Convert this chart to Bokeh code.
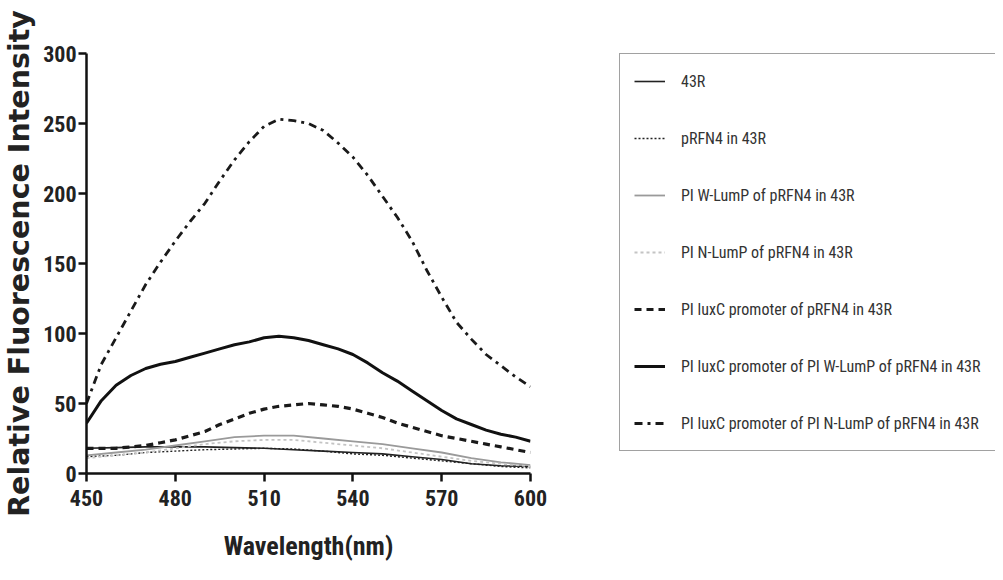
from bokeh.plotting import figure
from bokeh.layouts import row
from bokeh.models import Legend, LegendItem, FixedTicker, Range1d
from bokeh.embed import file_html
from bokeh.resources import INLINE

# ---------------- data ----------------
wl_5 = [450, 455, 460, 465, 470, 475, 480, 485, 490, 495, 500, 505, 510, 515,
        520, 525, 530, 535, 540, 545, 550, 555, 560, 565, 570, 575, 580, 585,
        590, 595, 600]
wl_10 = [450, 460, 470, 480, 490, 500, 510, 520, 530, 540, 550, 560, 570, 580, 590, 600]

s_43R = [18, 18.5, 19, 19, 19, 18.5, 18, 17, 16, 15, 14, 12, 10, 7, 5.5, 5]
s_pRFN4 = [12, 13, 15, 16, 17, 17.5, 18, 17.5, 16, 14, 13, 11, 9, 7, 5, 4]
s_W = [13, 15, 17, 20, 23, 26, 27, 27, 25, 23, 21, 18, 15, 11, 8, 6]
s_N = [11, 13, 15, 18, 21, 23, 24, 24, 22, 20, 18, 15, 12, 9, 7, 5]
s_lux = [18, 18, 18, 19, 20, 22, 24, 27, 30, 35, 39, 43, 46, 48, 49, 50, 49, 48,
         46, 43, 40, 36, 33, 30, 27, 25, 23, 21, 19, 17, 15]
s_luxW = [36, 52, 63, 70, 75, 78, 80, 83, 86, 89, 92, 94, 97, 98, 97, 95, 92, 89,
          85, 79, 72, 66, 59, 52, 45, 39, 35, 31, 28, 26, 23]
s_luxN = [50, 78, 97, 116, 135, 151, 166, 180, 193, 209, 224, 237, 248, 253, 252,
          250, 245, 236, 226, 213, 198, 183, 166, 145, 126, 108, 96, 85, 77, 69, 62]

labels = ["43R", "pRFN4 in 43R", "PI W-LumP of pRFN4 in 43R", "PI N-LumP of pRFN4 in 43R",
          "PI luxC promoter of pRFN4 in 43R", "PI luxC promoter of PI W-LumP of pRFN4 in 43R",
          "PI luxC promoter of PI N-LumP of pRFN4 in 43R"]
x_ticks = [450, 480, 510, 540, 570, 600]
y_ticks = [0, 50, 100, 150, 200, 250, 300]

COND = "Roboto Condensed, DejaVu Sans Condensed, sans-serif"

p = figure(width=600, height=572, output_backend="svg", toolbar_location=None,
           x_range=Range1d(450, 600), y_range=Range1d(0, 300),
           min_border_left=85, min_border_top=53, min_border_bottom=99,
           min_border_right=70)
p.outline_line_color = None
p.xgrid.visible = False
p.ygrid.visible = False

styles = [
    dict(line_color="#222222", line_width=1.6),
    dict(line_color="#222222", line_width=1.4, line_dash="2 2"),
    dict(line_color="#9a9a9a", line_width=1.8),
    dict(line_color="#c4c4c4", line_width=1.8, line_dash="3 3"),
    dict(line_color="#1a1a1a", line_width=3.2, line_dash="7 5"),
    dict(line_color="#111111", line_width=3.0),
    dict(line_color="#1a1a1a", line_width=2.8, line_dash="8 5 3 5"),
]
xs_all = [wl_10, wl_10, wl_10, wl_10, wl_5, wl_5, wl_5]
ys_all = [s_43R, s_pRFN4, s_W, s_N, s_lux, s_luxW, s_luxN]
for xs, ys, kw in zip(xs_all, ys_all, styles):
    p.line(xs, ys, **kw)

for ax in (p.xaxis[0], p.yaxis[0]):
    ax.axis_line_width = 2.5
    ax.axis_line_color = "#111111"
    ax.major_tick_line_width = 2.5
    ax.major_tick_line_color = "#111111"
    ax.major_tick_out = 8
    ax.major_tick_in = 0
    ax.minor_tick_line_color = None
    ax.major_label_text_font = COND
    ax.major_label_text_font_size = "22px"
    ax.major_label_text_font_style = "bold"
    ax.major_label_text_color = "#222222"

p.xaxis[0].ticker = FixedTicker(ticks=x_ticks)
p.yaxis[0].ticker = FixedTicker(ticks=y_ticks)
p.xaxis[0].major_label_standoff = 8
p.yaxis[0].major_label_standoff = 2

p.xaxis[0].axis_label = "Wavelength(nm)"
p.xaxis[0].axis_label_text_font = COND
p.xaxis[0].axis_label_text_font_size = "26px"
p.xaxis[0].axis_label_text_font_style = "bold"
p.xaxis[0].axis_label_text_color = "#222222"
p.xaxis[0].axis_label_standoff = 22

p.yaxis[0].axis_label = "Relative Fluorescence Intensity"
p.yaxis[0].axis_label_text_font = "DejaVu Sans"
p.yaxis[0].axis_label_text_font_size = "28.5px"
p.yaxis[0].axis_label_text_font_style = "bold"
p.yaxis[0].axis_label_text_color = "#222222"
p.yaxis[0].axis_label_standoff = 4

# legend panel as a second, axis-less figure (frame aligned with the chart's frame)
q = figure(width=395, height=572, output_backend="svg", toolbar_location=None,
           x_range=Range1d(0, 1), y_range=Range1d(0, 1),
           x_axis_type=None, y_axis_type=None,
           min_border_left=0, min_border_right=0, min_border_top=0, min_border_bottom=0)
q.outline_line_color = None
q.xgrid.visible = False
q.ygrid.visible = False
items = []
for kw, lab in zip(styles, labels):
    r = q.line([5, 6], [5, 6], **kw)  # off-range, only feeds the legend sample
    items.append(LegendItem(label=lab, renderers=[r]))

legend = Legend(items=items, location=(19, 22))
legend.border_line_color = "#444444"
legend.border_line_width = 1.6
legend.background_fill_alpha = 1.0
legend.padding = 14
legend.margin = 0
legend.spacing = 31
legend.glyph_width = 31
legend.glyph_height = 26
legend.label_height = 26
legend.label_standoff = 16
legend.label_text_font = COND
legend.label_text_font_size = "16px"
legend.label_text_color = "#333333"
q.add_layout(legend, "center")

layout = row(p, q)
open("out.html", "w").write(file_html(layout, INLINE))
